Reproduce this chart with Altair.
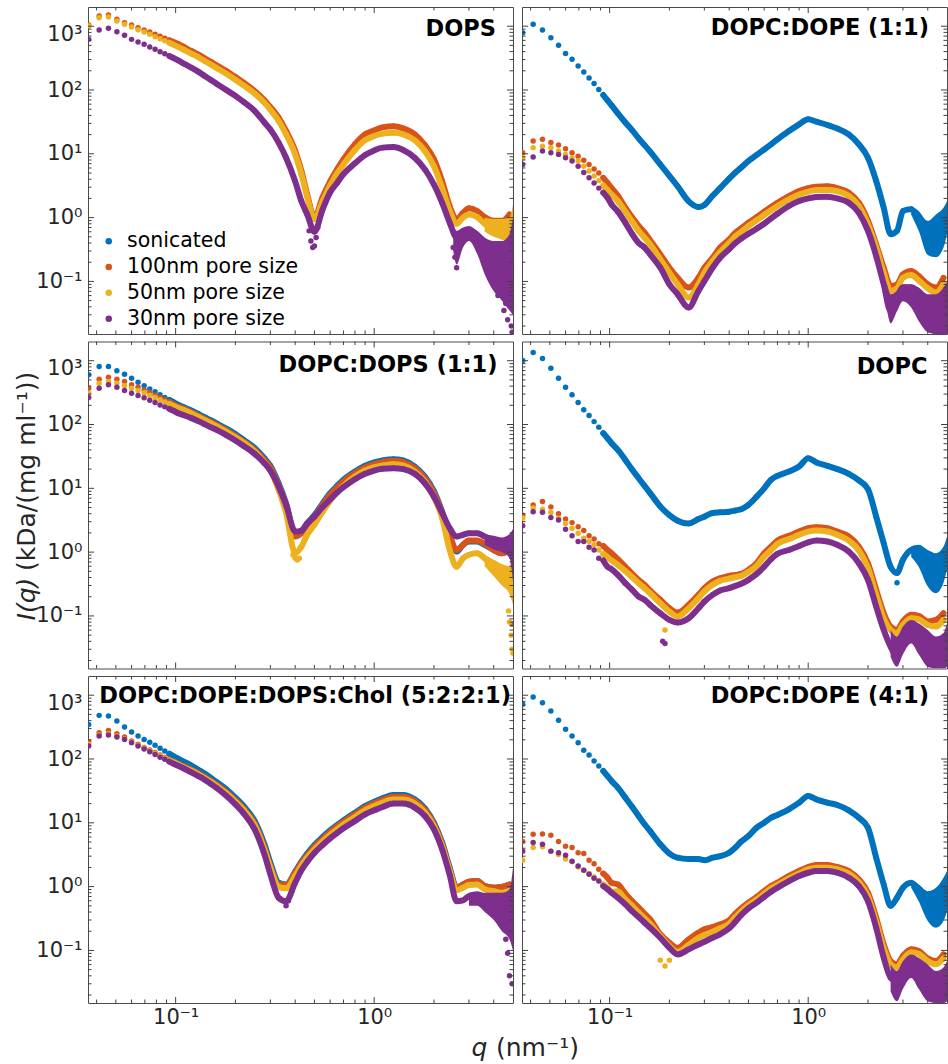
import altair as alt
import pandas as pd

SERIES = ["sonicated", "100nm pore size", "50nm pore size", "30nm pore size"]
COLORS = ["#0072BD", "#D95319", "#EDB120", "#7E2F8E"]

# q sampling (nm^-1): sparse low-q points, then denser read points
Q_LOW = [0.0365, 0.0412, 0.0459, 0.0506, 0.0553, 0.0600, 0.0647, 0.0694,
         0.0741, 0.0788, 0.0835, 0.0882, 0.0929, 0.0976, 0.1023]
Q_DENSE = [0.11, 0.12, 0.13, 0.14, 0.15, 0.16, 0.18, 0.20, 0.22, 0.25, 0.28,
           0.30, 0.33, 0.36, 0.40, 0.43, 0.46, 0.50, 0.55, 0.60, 0.65, 0.70,
           0.80, 0.90, 1.00, 1.10, 1.25, 1.40, 1.60, 1.80, 2.00, 2.20, 2.40,
           2.60, 2.80, 3.00, 3.30, 3.60, 4.00, 4.40, 4.80]

# ---------------- DOPS ----------------
DOPS_100 = [1045, 1445, 1500, 1282, 1136, 1045, 949, 872, 811, 746, 694, 646, 601, 565, 532,
            472, 408, 362, 314, 278, 246, 199, 160, 130, 96, 69, 54, 37, 22.8, 11.1, 5.4, 2.3, 1.0,
            2.1, 3.7, 5.7, 8.2, 14.1, 20.2, 23.3, 26, 27, 25, 20.2, 13.7, 8.2, 3.7, 1.5, 0.94,
            1.19, 1.4, 1.27, 1.02, 0.89, 0.89, 1.12]
DOPS_50 = [1007, 1361, 1393, 1208, 1070, 972, 883, 811, 746, 685, 638, 593, 552, 514, 478,
           428, 371, 329, 285, 253, 224, 180, 145, 118, 88, 63, 49, 33, 20.2, 9.8, 4.8, 2.1, 0.95,
           1.8, 3.2, 4.9, 6.8, 11.5, 16.4, 19, 20.7, 21.4, 20.2, 16.3, 11.1, 6.4, 2.9, 1.27, 0.80,
           1.0, 1.12, 1.02, 0.80, 0.62, 0.55, 0.70]
DOPS_30 = [622, 872, 927, 821, 719, 622, 565, 520, 472, 434, 399, 371, 341, 317, 295,
           259, 224, 194, 166, 145, 127, 100, 81, 65, 47, 31, 24, 15, 8.7, 3.7, 1.8, 1.12, 0.6,
           1.35, 2.5, 3.5, 4.8, 7.1, 9.6, 11.3, 12.5, 12.8, 11.5, 8.7, 5.7, 3.3, 1.7, 0.83, 0.49,
           0.55, 0.63, 0.52, 0.34, 0.24, 0.185, 0.27]

# ---------------- DOPC:DOPE (1:1) ----------------
PE11_SON = [792, 1070, 872, 661, 501, 375, 303, 238, 191, 154, 126, 102, 83.5, 69, 57.5,
            43, 31, 23.3, 17.5, 13.7, 10.8, 6.8, 4.5, 3.1, 1.8, 1.47, 1.58, 2.2, 2.9, 4.1, 5.1,
            6.1, 7.7, 9.6, 11.7, 14.1, 16.9, 22.8, 29, 34.7, 31.9, 28.3, 25, 20.2, 14.1, 8.7,
            3.75, 1.43, 0.55, 0.62, 1.27, 1.35, 0.94, 0.55, 0.62, 1.0]
PE11_100 = [10.4, 15.9, 16.9, 15.0, 13.7, 12.0, 10.4, 9.2, 7.9, 6.8, 5.8, 5.0, 4.2, 3.5, 2.9,
            2.2, 1.43, 1.0, 0.74, 0.58, 0.44, 0.265, 0.164, 0.114, 0.08, 0.114, 0.164, 0.235,
            0.34, 0.456, 0.58, 0.68, 0.83, 1.02, 1.24, 1.47, 1.71, 2.18, 2.6, 2.9, 3.05, 3.1, 2.9,
            2.46, 1.71, 0.89, 0.38, 0.164, 0.085, 0.09, 0.129, 0.146, 0.122, 0.09, 0.08, 0.114]
PE11_50 = [8.7, 12.5, 13.2, 12.5, 11.1, 9.8, 8.7, 7.7, 6.4, 5.4, 4.5, 3.8, 3.2, 2.7, 2.3,
           1.82, 1.24, 0.86, 0.62, 0.485, 0.38, 0.222, 0.137, 0.09, 0.056, 0.09, 0.137, 0.209,
           0.29, 0.40, 0.51, 0.60, 0.74, 0.91, 1.10, 1.30, 1.52, 1.93, 2.3, 2.55, 2.7, 2.72, 2.6,
           2.18, 1.52, 0.78, 0.34, 0.137, 0.071, 0.078, 0.114, 0.126, 0.104, 0.078, 0.067, 0.09]
PE11_30 = [6.8, 8.9, 11.1, 10.4, 9.8, 8.7, 7.7, 6.4, 5.1, 4.2, 3.5, 2.9, 2.46, 2.05, 1.61,
           1.24, 0.83, 0.55, 0.40, 0.34, 0.265, 0.164, 0.09, 0.063, 0.039, 0.071, 0.101, 0.164,
           0.235, 0.32, 0.40, 0.47, 0.56, 0.67, 0.80, 0.97, 1.15, 1.52, 1.82, 2.0, 2.1, 2.12, 2.0,
           1.71, 1.19, 0.62, 0.25, 0.09, 0.034, 0.056, 0.08, 0.08, 0.059, 0.034, 0.027, 0.039]

# ---------------- DOPC:DOPS (1:1) ----------------
PS11_SON = [601, 811, 811, 694, 615, 532, 461, 404, 362, 325, 292, 265, 244, 224, 206,
            187, 166, 147, 130, 117, 105, 86, 71, 57.5, 43, 29.6, 22.5, 12.0, 5.8, 1.87, 2.1,
            2.84, 3.8, 5.8, 8.4, 10.9, 13.6, 18.3, 22.5, 25.4, 27.3, 28.6, 27.3, 21.9, 15.3, 9.0,
            4.3, 1.87, 1.02, 1.30, 1.47, 1.47, 1.30, 1.08, 0.96, 1.08]
PS11_100 = [371, 514, 552, 514, 472, 419, 385, 349, 317, 288, 265, 244, 224, 206, 191,
            176, 156, 138, 122, 110, 99, 81, 66, 54, 40, 27.9, 21.2, 11.2, 5.5, 1.76, 1.98, 2.7,
            3.6, 5.5, 7.9, 10.3, 12.8, 17.3, 21.2, 23.9, 25.7, 27, 25.7, 20.7, 14.4, 8.4, 4.1,
            1.8, 1.08, 1.30, 1.52, 1.52, 1.35, 1.08, 0.96, 1.08]
PS11_50 = [310, 445, 472, 445, 404, 371, 341, 314, 288, 265, 244, 226, 211, 196, 183,
           168, 149, 132, 117, 105, 94, 77, 63, 52, 38, 25.4, 19, 9.5, 4.1, 0.96, 1.22, 1.87,
           2.7, 4.3, 6.4, 8.6, 10.9, 15.3, 19, 21.4, 22.8, 23.9, 22.8, 18.3, 12.8, 7.4, 3.4,
           1.08, 0.59, 0.80, 0.91, 0.96, 0.80, 0.59, 0.45, 0.40]
PS11_30 = [265, 371, 419, 385, 341, 310, 285, 262, 241, 221, 203, 189, 176, 164, 152,
           140, 126, 113, 101, 91, 83, 68, 56, 46, 34.7, 24.8, 19, 10.7, 5.5, 2.1, 2.18, 2.8,
           3.6, 5.1, 6.7, 8.6, 10.4, 13.9, 16.9, 19, 20.2, 20.7, 20, 16.9, 12.0, 7.4, 4.1, 2.37,
           1.76, 1.87, 1.98, 1.98, 1.76, 1.52, 1.38, 1.56]

# ---------------- DOPC ----------------
PC_SON = [1007, 1346, 1084, 763, 532, 385, 292, 221, 170, 138, 111, 91, 73, 61, 51,
          40, 27.9, 19.5, 14.4, 10.9, 8.4, 5.2, 3.8, 3.1, 2.8, 3.3, 3.6, 4.1, 4.2, 4.3, 4.5,
          4.7, 5.5, 7.4, 10.0, 13.6, 15.7, 18.3, 22, 29.6, 25.4, 22.5, 20, 16.9, 13.3, 9.7, 3.6,
          1.38, 0.59, 0.47, 0.76, 1.08, 1.15, 0.67, 0.41, 0.96]
PC_100 = [3.8, 5.5, 6.2, 5.1, 4.0, 3.3, 2.9, 2.5, 2.18, 1.8, 1.6, 1.35, 1.25, 1.08, 0.96,
          0.775, 0.59, 0.456, 0.367, 0.307, 0.25, 0.179, 0.132, 0.113, 0.149, 0.214, 0.272,
          0.346, 0.39, 0.425, 0.44, 0.456, 0.527, 0.67, 0.96, 1.22, 1.52, 1.8, 2.1, 2.37, 2.46,
          2.37, 2.1, 1.76, 1.22, 0.67, 0.256, 0.110, 0.068, 0.0605, 0.082, 0.104, 0.100, 0.082,
          0.0867, 0.110]
PC_50 = [3.4, 4.9, 4.7, 4.2, 3.4, 2.8, 2.37, 1.98, 1.65, 1.47, 1.30, 1.08, 0.94, 0.83, 0.74,
         0.63, 0.50, 0.405, 0.326, 0.272, 0.227, 0.158, 0.117, 0.098, 0.132, 0.19, 0.242, 0.307,
         0.355, 0.385, 0.405, 0.425, 0.49, 0.61, 0.85, 1.08, 1.35, 1.6, 1.87, 2.1, 2.18, 2.1,
         1.87, 1.52, 1.06, 0.56, 0.214, 0.092, 0.0605, 0.054, 0.072, 0.092, 0.089, 0.072, 0.068,
         0.0867]
PC_30 = [2.58, 4.3, 4.2, 3.5, 3.2, 2.29, 1.8, 1.47, 1.47, 1.19, 1.08, 0.80, 0.74, 0.59, 0.54,
         0.44, 0.326, 0.256, 0.201, 0.179, 0.149, 0.110, 0.0867, 0.079, 0.092, 0.132, 0.168,
         0.214, 0.25, 0.272, 0.296, 0.318, 0.367, 0.456, 0.59, 0.775, 0.94, 1.08, 1.25, 1.42,
         1.52, 1.47, 1.30, 1.02, 0.67, 0.367, 0.14, 0.0605, 0.033, 0.0231, 0.0448, 0.0605, 0.054,
         0.0374, 0.0294, 0.033]

# ---------------- DOPC:DOPE:DOPS:Chol (5:2:2:1) ----------------
MIX_SON = [349, 483, 472, 394, 317, 265, 229, 203, 183, 164, 147, 133, 121, 111, 102,
           91, 79, 68, 59, 51, 44, 33.5, 24.8, 18.3, 10.7, 4.6, 2.37, 1.15, 1.08, 1.71, 2.46,
           3.3, 4.5, 6.0, 7.6, 9.2, 10.9, 14.4, 18.3, 21.4, 24.2, 27.3, 27.3, 23.3, 16.9, 10.0,
           4.9, 1.98, 0.96, 1.08, 1.19, 1.22, 1.02, 0.96, 0.99, 1.08]
MIX_100 = [187, 259, 281, 250, 221, 191, 170, 152, 138, 126, 116, 106, 98, 91, 84.5,
           77, 68, 59.6, 52, 45.7, 40, 30.4, 22.5, 16.7, 9.7, 4.1, 2.1, 1.08, 1.06, 1.65, 2.34,
           3.1, 4.2, 5.6, 7.2, 8.7, 10.3, 13.6, 17.3, 20.2, 22.8, 25.7, 25.7, 22, 15.9, 9.5, 4.6,
           1.87, 0.96, 1.08, 1.19, 1.22, 1.02, 0.96, 0.99, 1.08]
MIX_50 = [170, 238, 250, 229, 206, 185, 166, 149, 135, 123, 113, 104, 95, 89, 83,
          74, 65.6, 57.5, 50.4, 44, 38.2, 29, 21.4, 15.9, 9.1, 3.8, 1.98, 0.99, 0.94, 1.47, 2.13,
          2.84, 3.8, 5.1, 6.5, 7.9, 9.4, 12.3, 15.7, 18.3, 20.7, 23.1, 23.1, 20, 14.6, 8.8, 4.3,
          1.76, 0.88, 0.96, 1.06, 1.08, 0.91, 0.85, 0.80, 0.85]
MIX_30 = [160, 229, 238, 221, 203, 180, 160, 144, 130, 118, 107, 99, 91, 84.5, 79,
          71, 61.8, 54, 47.4, 41, 35.6, 26.6, 19.5, 14.1, 7.9, 3.2, 1.56, 0.67, 0.59, 1.15, 1.8,
          2.46, 3.37, 4.5, 5.7, 6.9, 8.2, 10.7, 13.6, 15.7, 17.7, 20, 20, 17.3, 12.8, 7.9, 3.8,
          1.52, 0.59, 0.61, 0.71, 0.74, 0.59, 0.527, 0.47, 0.527]

# ---------------- DOPC:DOPE (4:1) ----------------
PE41_SON = [719, 937, 763, 565, 404, 292, 229, 180, 137, 116, 93, 77.6, 64.9, 54, 45.2,
            35.6, 24.8, 17.7, 12.8, 9.5, 7.4, 4.6, 3.3, 2.84, 2.7, 2.7, 2.58, 2.84, 3.0, 3.4,
            4.1, 5.1, 6.2, 8.4, 10.0, 12.0, 13.3, 16.3, 20.7, 26.3, 23.3, 20.7, 19, 15.7, 12.0,
            8.4, 2.84, 1.08, 0.50, 0.67, 0.96, 1.15, 0.91, 0.527, 0.59, 0.96]
PE41_100 = [5.1, 6.6, 6.7, 6.4, 5.1, 4.3, 4.1, 3.4, 3.3, 2.58, 2.29, 1.87, 1.6, 1.38, 1.15,
            1.08, 0.775, 0.59, 0.47, 0.376, 0.307, 0.179, 0.132, 0.110, 0.149, 0.19, 0.214,
            0.233, 0.256, 0.296, 0.376, 0.456, 0.56, 0.69, 0.85, 1.02, 1.15, 1.47, 1.76, 2.03,
            2.18, 2.18, 2.03, 1.76, 1.30, 0.80, 0.326, 0.124, 0.068, 0.0605, 0.082, 0.104, 0.098,
            0.075, 0.068, 0.0867]
PE41_50 = [2.58, 4.1, 4.2, 3.6, 3.2, 2.7, 2.46, 2.03, 1.8, 1.6, 1.42, 1.25, 1.08, 0.96, 0.83,
           0.85, 0.63, 0.50, 0.39, 0.318, 0.262, 0.168, 0.117, 0.0955, 0.122, 0.158, 0.174,
           0.197, 0.222, 0.262, 0.334, 0.41, 0.515, 0.63, 0.775, 0.94, 1.06, 1.35, 1.61, 1.87,
           1.98, 1.98, 1.87, 1.6, 1.18, 0.71, 0.282, 0.108, 0.0605, 0.054, 0.072, 0.094, 0.089,
           0.068, 0.0605, 0.075]
PE41_30 = [3.6, 4.9, 4.6, 3.6, 3.4, 3.1, 2.5, 2.1, 1.8, 1.56, 1.35, 1.22, 1.02, 0.91, 0.80,
           0.67, 0.527, 0.41, 0.334, 0.272, 0.227, 0.158, 0.110, 0.0867, 0.104, 0.124, 0.137,
           0.158, 0.179, 0.222, 0.282, 0.359, 0.456, 0.56, 0.69, 0.83, 0.96, 1.22, 1.47, 1.65,
           1.76, 1.76, 1.65, 1.38, 1.02, 0.59, 0.227, 0.077, 0.0374, 0.033, 0.050, 0.068, 0.0605,
           0.0374, 0.0294, 0.0374]

# noisy high-q spread (q, upper, lower)
NOISE = {
    "DOPS": {
        SERIES[2]: ([3.6, 4.0, 4.4, 4.8, 5.0], [1.0, 0.95, 0.95, 1.0, 1.6], [0.6, 0.5, 0.45, 0.4, 0.3]),
        SERIES[3]: ([2.5, 2.6, 2.8, 3.0, 3.3, 3.6, 4.0, 4.4, 4.8, 5.0],
                    [0.75, 0.62, 0.70, 0.74, 0.62, 0.49, 0.43, 0.43, 0.55, 1.0],
                    [0.30, 0.185, 0.34, 0.43, 0.27, 0.13, 0.07, 0.05, 0.035, 0.03]),
    },
    "PE11": {
        SERIES[0]: ([3.3, 3.6, 4.0, 4.4, 4.8, 5.0], [1.52, 1.27, 0.89, 1.12, 1.43, 1.8],
                    [1.12, 0.62, 0.26, 0.24, 0.34, 0.55]),
        SERIES[3]: ([2.5, 2.6, 2.8, 3.0, 3.3, 3.6, 4.0, 4.4, 4.8, 5.0],
                    [0.09, 0.063, 0.071, 0.09, 0.09, 0.08, 0.063, 0.063, 0.08, 0.1],
                    [0.034, 0.022, 0.034, 0.049, 0.039, 0.024, 0.016, 0.015, 0.015, 0.015]),
    },
    "PS11": {
        SERIES[2]: ([3.6, 4.0, 4.4, 4.8, 5.0], [0.9, 0.76, 0.65, 0.6, 1.0], [0.6, 0.42, 0.3, 0.22, 0.15]),
        SERIES[3]: ([3.6, 4.0, 4.4, 4.8, 5.0], [1.9, 1.8, 1.7, 1.9, 2.3], [1.3, 1.1, 1.0, 0.8, 0.35]),
    },
    "PC": {
        SERIES[0]: ([3.3, 3.6, 4.0, 4.4, 4.8, 5.0], [1.22, 1.30, 1.08, 0.96, 1.22, 1.76],
                    [0.85, 0.59, 0.29, 0.227, 0.33, 0.527]),
        SERIES[3]: ([2.6, 2.8, 3.0, 3.3, 3.6, 4.0, 4.4, 4.8, 5.0],
                    [0.06, 0.0475, 0.068, 0.0867, 0.077, 0.06, 0.0475, 0.054, 0.077],
                    [0.023, 0.016, 0.025, 0.037, 0.025, 0.016, 0.015, 0.015, 0.016]),
    },
    "MIX": {
        SERIES[3]: ([3.0, 3.3, 3.6, 4.0, 4.4, 4.8, 5.0], [0.8, 0.85, 0.8, 0.8, 0.8, 0.9, 2.0],
                    [0.5, 0.5, 0.4, 0.3, 0.2, 0.15, 0.1]),
    },
    "PE41": {
        SERIES[0]: ([3.3, 3.6, 4.0, 4.4, 4.8, 5.0], [1.22, 1.08, 0.85, 0.96, 1.38, 1.76],
                    [0.96, 0.59, 0.29, 0.227, 0.29, 0.41]),
        SERIES[3]: ([2.6, 2.8, 3.0, 3.3, 3.6, 4.0, 4.4, 4.8, 5.0],
                    [0.06, 0.0475, 0.068, 0.0867, 0.077, 0.06, 0.0475, 0.054, 0.068],
                    [0.023, 0.016, 0.025, 0.037, 0.025, 0.016, 0.015, 0.015, 0.016]),
    },
}

# isolated outlying points (q, I)
OUTLIERS = {
    "DOPS": {
        SERIES[2]: ([4.7], [0.113]),
        SERIES[3]: ([0.47, 0.48, 0.49, 0.5, 0.51, 0.52, 2.5, 2.55, 2.6, 4.2, 4.5, 4.6, 4.7, 4.9, 4.95],
                    [0.62, 0.43, 0.34, 0.36, 0.49, 0.70, 0.34, 0.24, 0.164, 0.06, 0.035, 0.045, 0.025, 0.02, 0.016]),
    },
    "PE11": {},
    "PS11": {
        SERIES[1]: ([4.95], [0.075]),
        SERIES[2]: ([0.39, 0.4, 0.41, 0.42, 4.75, 4.8, 4.9, 4.95, 5.0],
                    [0.9, 0.8, 0.75, 0.8, 0.12, 0.08, 0.05, 0.03, 0.026]),
    },
    "PC": {
        SERIES[0]: ([2.8], [0.33]),
        SERIES[2]: ([0.19], [0.06]),
        SERIES[3]: ([0.185, 0.19], [0.04, 0.037]),
    },
    "MIX": {
        SERIES[3]: ([0.35, 0.36, 0.37, 4.6, 4.7, 4.8, 4.95], [0.6, 0.5, 0.6, 0.15, 0.09, 0.04, 0.03]),
    },
    "PE41": {
        SERIES[2]: ([0.18, 0.19, 0.2], [0.07, 0.057, 0.07]),
    },
}

X_MAJOR = [0.1, 1.0]
X_MINOR = [0.04, 0.05, 0.06, 0.07, 0.08, 0.09, 0.2, 0.3, 0.4, 0.5, 0.6, 0.7, 0.8, 0.9, 2.0, 3.0, 4.0]
Y_MAJOR = [0.1, 1.0, 10.0, 100.0, 1000.0]
Y_MINOR = [0.02, 0.03, 0.04, 0.05, 0.06, 0.07, 0.08, 0.09,
           0.2, 0.3, 0.4, 0.5, 0.6, 0.7, 0.8, 0.9,
           2, 3, 4, 5, 6, 7, 8, 9,
           20, 30, 40, 50, 60, 70, 80, 90,
           200, 300, 400, 500, 600, 700, 800, 900]

W, H = 425, 327
FONT = "DejaVu Sans"
TXT = "#262626"
TC = "#404040"
XS = alt.Scale(type="log", domain=[0.0362, 5.0], nice=False)
YS = alt.Scale(type="log", domain=[0.015, 2000], nice=False)
CS = alt.Scale(domain=SERIES, range=COLORS)

LEG = alt.Legend(title=None, orient="none", legendX=10.5, legendY=224, padding=0,
                 labelFontSize=20.5, labelFont=FONT, labelColor="black", labelLimit=400,
                 symbolType="circle", symbolSize=42, symbolStrokeWidth=0, symbolOpacity=1,
                 rowPadding=4.8, labelOffset=8)


def x_axis(show):
    if not show:
        return None
    return alt.Axis(values=X_MAJOR, labelExpr="datum.value < 0.5 ? '10⁻¹' : '10⁰'",
                    ticks=False, tickSize=0, domain=False, grid=False, title=None,
                    labelFontSize=21, labelFont=FONT, labelColor=TXT, labelPadding=3,
                    labelFlush=False)


def y_axis(show):
    if not show:
        return None
    return alt.Axis(values=Y_MAJOR,
                    labelExpr="datum.value > 500 ? '10³' : datum.value > 50 ? '10²' : "
                              "datum.value > 5 ? '10¹' : datum.value > 0.5 ? '10⁰' : '10⁻¹'",
                    ticks=False, tickSize=0, domain=False, grid=False, title=None,
                    labelFontSize=21, labelFont=FONT, labelColor=TXT, labelPadding=6,
                    labelOffset=alt.condition("datum.value > 500", alt.value(8), alt.value(0)))


def text_layer(t, x, y, size, align="right", weight="normal", style="normal", angle=0,
               baseline="alphabetic", color="black"):
    return alt.Chart(pd.DataFrame({"t": [t]})).mark_text(
        font=FONT, fontSize=size, fontWeight=weight, fontStyle=style, align=align,
        baseline=baseline, angle=angle, color=color
    ).encode(text="t:N", x=alt.value(x), y=alt.value(y))


def panel(key, curves, title, tx, ty, show_x, show_y, legend=False, extra=()):
    xa, ya = x_axis(show_x), y_axis(show_y)
    X = alt.X("q:Q", scale=XS, axis=xa)
    Y = alt.Y("I:Q", scale=YS, axis=ya)
    layers = []
    for s, col in zip(SERIES, COLORS):
        if s in NOISE[key]:
            nq, hi, lo = NOISE[key][s]
            df = pd.DataFrame({"q": nq, "hi": hi, "lo": lo})
            layers.append(alt.Chart(df).mark_area(color=col, opacity=1, clip=True,
                                                  interpolate="monotone").encode(
                x=X, y=alt.Y("hi:Q", scale=YS, axis=ya), y2="lo:Q"))
        if s in curves:
            df = pd.DataFrame({"q": Q_LOW + Q_DENSE, "I": curves[s], "series": s})
            layers.append(alt.Chart(df).transform_filter("datum.q >= 0.09").mark_line(
                color=col, strokeWidth=6, clip=True, interpolate="monotone",
                strokeCap="round", strokeJoin="round").encode(x=X, y=Y))
            pts = alt.Chart(df).mark_circle(size=30, opacity=1, clip=True)
            if legend:
                layers.append(pts.encode(x=X, y=Y, color=alt.Color("series:N", scale=CS, legend=LEG)))
            else:
                layers.append(pts.encode(x=X, y=Y, color=alt.value(col)))
        if s in OUTLIERS[key]:
            oq, oi = OUTLIERS[key][s]
            df = pd.DataFrame({"q": oq, "I": oi})
            layers.append(alt.Chart(df).mark_circle(size=30, opacity=1, clip=True, color=col)
                          .encode(x=X, y=Y))
    # inward ticks on all four sides
    for vals, ln in ((X_MAJOR, 6), (X_MINOR, 3.5)):
        base = alt.Chart(pd.DataFrame({"q": vals})).mark_rule(color=TC, strokeWidth=1)
        layers.append(base.encode(x=X, y=alt.value(H), y2=alt.value(H - ln)))
        layers.append(base.encode(x=X, y=alt.value(0), y2=alt.value(ln)))
    for vals, ln in ((Y_MAJOR, 6), (Y_MINOR, 3.5)):
        base = alt.Chart(pd.DataFrame({"I": vals})).mark_rule(color=TC, strokeWidth=1)
        layers.append(base.encode(y=Y, x=alt.value(0), x2=alt.value(ln)))
        layers.append(base.encode(y=Y, x=alt.value(W), x2=alt.value(W - ln)))
    layers.append(text_layer(title, tx, ty, 22.5, weight="bold"))
    layers.extend(extra)
    return alt.layer(*layers).properties(width=W, height=H)


p1 = panel("DOPS", {SERIES[1]: DOPS_100, SERIES[2]: DOPS_50, SERIES[3]: DOPS_30},
           "DOPS", 408, 29, False, True, legend=True)
p2 = panel("PE11", {SERIES[0]: PE11_SON, SERIES[1]: PE11_100, SERIES[2]: PE11_50, SERIES[3]: PE11_30},
           "DOPC:DOPE (1:1)", 407, 27.5, False, False)
p3 = panel("PS11", {SERIES[0]: PS11_SON, SERIES[1]: PS11_100, SERIES[2]: PS11_50, SERIES[3]: PS11_30},
           "DOPC:DOPS (1:1)", 409.5, 30, False, True,
           extra=[text_layer("I(q)", -61, 257.5, 25, align="center", style="italic", angle=270,
                             baseline="middle", color=TXT),
                  text_layer("(kDa/(mg ml⁻¹))", -61, 229.5, 25, align="left", angle=270,
                             baseline="middle", color=TXT)])
p4 = panel("PC", {SERIES[0]: PC_SON, SERIES[1]: PC_100, SERIES[2]: PC_50, SERIES[3]: PC_30},
           "DOPC", 405.5, 32.3, False, False)
p5 = panel("MIX", {SERIES[0]: MIX_SON, SERIES[1]: MIX_100, SERIES[2]: MIX_50, SERIES[3]: MIX_30},
           "DOPC:DOPE:DOPS:Chol (5:2:2:1)", 423, 26.7, True, True,
           extra=[text_layer("q", 391.5, 380, 25, align="center", style="italic", color=TXT),
                  text_layer("(nm⁻¹)", 408, 380, 25, align="left", color=TXT)])
p6 = panel("PE41", {SERIES[0]: PE41_SON, SERIES[1]: PE41_100, SERIES[2]: PE41_50, SERIES[3]: PE41_30},
           "DOPC:DOPE (4:1)", 407, 26.7, True, False)

chart = alt.concat(p1, p2, p3, p4, p5, p6, columns=2,
                   spacing={"row": 7.5, "column": 9}, bounds="flush").properties(
    padding={"left": 14, "top": 6, "right": 0, "bottom": 0},
    background="white",
).configure_view(stroke="#4a4a4a", strokeWidth=1)

chart.save("out.html", embed_options={"renderer": "svg", "actions": False})
